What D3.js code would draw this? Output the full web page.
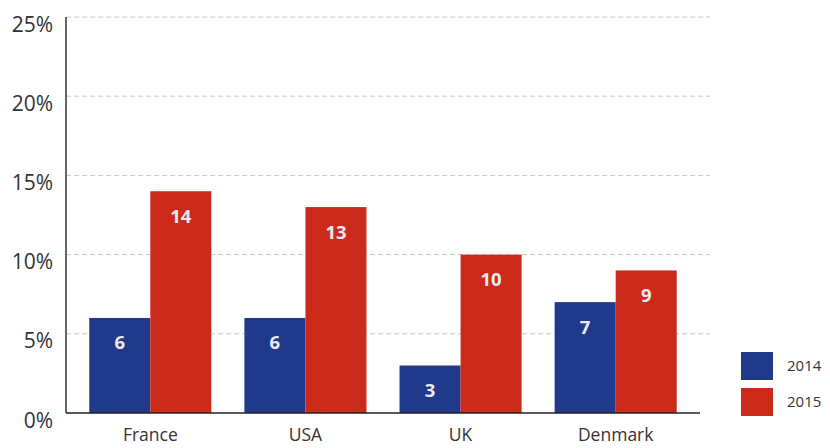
<!DOCTYPE html>
<html><head><meta charset="utf-8">
<script src="https://cdn.jsdelivr.net/npm/d3@7"></script>
<style>body{margin:0;background:#fff;} svg{display:block;font-family:"Open Sans",sans-serif;}</style>
</head><body>
<svg id="chart" width="830" height="448"></svg>
<script>
const categories = ["France", "USA", "UK", "Denmark"];
const seriesNames = ["2014", "2015"];
const values2014 = [6, 6, 3, 7];
const values2015 = [14, 13, 10, 9];
const yTicks = [0, 5, 10, 15, 20, 25];
const colors = ["#21398b", "#cc2a1b"];

const svg = d3.select("#chart");
const x0 = 66, x1 = 700, yTop = 17, yBot = 413;
const y = d3.scaleLinear().domain([0, 25]).range([yBot, yTop]);
const xb = d3.scaleBand().domain(categories).range([x0, x1]).paddingInner(0.213).paddingOuter(0.15);
const xs = d3.scaleBand().domain(seriesNames).range([0, xb.bandwidth()]);

// gridlines
svg.append("g").selectAll("line").data(yTicks.filter(d => d > 0)).join("line")
  .attr("x1", x0).attr("x2", 710).attr("y1", d => y(d)).attr("y2", d => y(d))
  .attr("stroke", "#c8c8c8").attr("stroke-dasharray", "5,3").attr("stroke-width", 1);

// y axis labels
const yAxis = d3.axisLeft(y).tickValues(yTicks).tickFormat(d => d + "%").tickSize(0).tickPadding(13);
const ya = svg.append("g").attr("transform", `translate(${x0},0)`).call(yAxis);
ya.select(".domain").remove();
ya.selectAll("text").attr("font-size", 21).attr("fill", "#333").attr("dy", "0.67em").attr("font-family", "Open Sans");

const data = categories.map((c, i) => ({cat: c, vals: [values2014[i], values2015[i]]}));
const groups = svg.append("g").selectAll("g").data(data).join("g")
  .attr("transform", d => `translate(${xb(d.cat)},0)`);
groups.selectAll("rect").data(d => d.vals.map((v, j) => ({v, s: seriesNames[j], j}))).join("rect")
  .attr("x", d => xs(d.s)).attr("width", xs.bandwidth())
  .attr("y", d => y(d.v)).attr("height", d => y(0) - y(d.v))
  .attr("fill", d => colors[d.j]);
groups.selectAll("text").data(d => d.vals.map((v, j) => ({v, s: seriesNames[j], j}))).join("text")
  .attr("x", d => xs(d.s) + xs.bandwidth() / 2).attr("y", d => y(d.v) + 25)
  .attr("dy", "0.35em").attr("text-anchor", "middle")
  .attr("fill", "#eceaf0").attr("font-weight", "bold").attr("font-size", 18.5)
  .text(d => d.v);

// axes lines
svg.append("line").attr("x1", x0).attr("x2", x0).attr("y1", yTop).attr("y2", yBot).attr("stroke", "#333").attr("stroke-width", 1.5);
svg.append("line").attr("x1", x0).attr("x2", x1).attr("y1", yBot).attr("y2", yBot).attr("stroke", "#222").attr("stroke-width", 1.5);

// x labels
const xAxis = d3.axisBottom(xb).tickSize(0).tickPadding(16);
const xa = svg.append("g").attr("transform", `translate(0,${yBot})`).call(xAxis);
xa.select(".domain").remove();
xa.selectAll("text").attr("font-size", 17.5).attr("fill", "#333").attr("font-family", "Open Sans");

// legend
const lg = svg.append("g").selectAll("g").data(seriesNames).join("g")
  .attr("transform", (d, i) => `translate(741,${352 + i * 36})`);
lg.append("rect").attr("width", 32).attr("height", 28).attr("fill", (d, i) => colors[i]);
lg.append("text").attr("x", 46).attr("y", 14).attr("dy", "0.35em")
  .attr("font-size", 15).attr("fill", "#333").text(d => d);
</script>
</body></html>
